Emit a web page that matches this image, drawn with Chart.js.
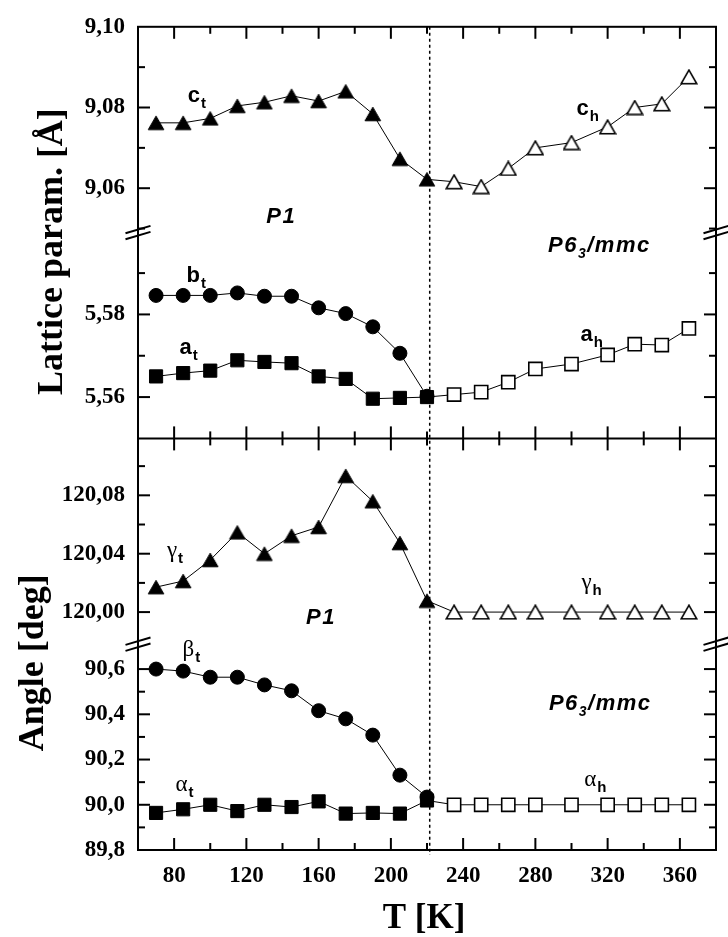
<!DOCTYPE html>
<html>
<head>
<meta charset="utf-8">
<script src="https://cdn.jsdelivr.net/npm/chart.js@4.4.1/dist/chart.umd.min.js"></script>
<style>
html,body{margin:0;padding:0;background:#fff;}
canvas{display:block;}
</style>
</head>
<body>
<canvas id="chart" width="728" height="937"></canvas>
<script>
// ---------- data ----------
const T_tet = [70, 85, 100, 115, 130, 145, 160, 175, 190, 205, 220];
const T_hex = [235, 250, 265, 280, 300, 320, 335, 350, 365];

const c_tet = [9.0762, 9.0762, 9.0773, 9.0804, 9.0813, 9.0829, 9.0816, 9.0840, 9.0784, 9.0673, 9.0622];
const c_hex = [9.0616, 9.0604, 9.0649, 9.0700, 9.0713, 9.0752, 9.0800, 9.0809, 9.0876];

const b_tet = [5.5846, 5.5846, 5.5846, 5.5852, 5.5844, 5.5844, 5.5816, 5.5802, 5.5770, 5.5706, 5.5602];
const a_tet = [5.5650, 5.5658, 5.5664, 5.5689, 5.5685, 5.5682, 5.5650, 5.5644, 5.5596, 5.5598, 5.5600];
const a_hex = [5.5606, 5.5612, 5.5636, 5.5668, 5.5680, 5.5702, 5.5728, 5.5726, 5.5766];

const gamma_tet = [120.0171, 120.0213, 120.0357, 120.0546, 120.0400, 120.0523, 120.0583, 120.0933, 120.0759, 120.0473, 120.0078];
const gamma_hex = [120.000, 120.000, 120.000, 120.000, 120.000, 120.000, 120.000, 120.000, 120.000];

const beta_tet = [90.600, 90.591, 90.564, 90.564, 90.530, 90.504, 90.416, 90.380, 90.308, 90.131, 90.034];
const alpha_tet = [89.964, 89.980, 90.000, 89.972, 90.000, 89.990, 90.015, 89.961, 89.964, 89.961, 90.019];
const alpha_hex = [90.000, 90.000, 90.000, 90.000, 90.000, 90.000, 90.000, 90.000, 90.000];

const T_transition = 221.5;

// tick labels
const xTickLabels = [80, 120, 160, 200, 240, 280, 320, 360];
const cTickLabels = [9.06, 9.08, 9.10];
const abTickLabels = [5.56, 5.58];
const gammaTickLabels = [120.00, 120.04, 120.08];
const angleTickLabels = [89.8, 90.0, 90.2, 90.4, 90.6];

// axis ranges
const xRange = [60, 380];
const cRange = [9.049, 9.10];
const abRange = [5.55, 5.5998];
const gammaRange = [119.978, 120.119];
const angleRange = [89.8, 90.71];

// ---------- helpers ----------
const SERIF = '"Liberation Serif","Times New Roman",serif';
const SANS = '"Liberation Sans",Arial,sans-serif';
const near = (v, arr) => arr.some(a => Math.abs(a - v) < 1e-6);
const pts = (Ts, Vs) => Ts.map((t, i) => ({x: t, y: Vs[i]}));
const fills = (nTet, nHex) => Array(nTet).fill('#000').concat(Array(nHex).fill('#fff'));
const widths = (nTet, nHex) => Array(nTet).fill(1).concat(Array(nHex).fill(1.6));

// triangle symbols centred on their bounding box (as in the original plot)
function triangleSymbol(filled) {
  const cv = document.createElement('canvas');
  cv.width = 18; cv.height = 16;
  const g = cv.getContext('2d');
  g.beginPath();
  g.moveTo(9, 1.2); g.lineTo(16.8, 14.8); g.lineTo(1.2, 14.8); g.closePath();
  g.fillStyle = filled ? '#000' : '#fff';
  g.fill();
  g.strokeStyle = '#000';
  g.lineWidth = filled ? 1 : 1.6;
  g.lineJoin = 'miter';
  g.stroke();
  return cv;
}
const triFilled = triangleSymbol(true);
const triOpen = triangleSymbol(false);
const triStyles = (nTet, nHex) => Array(nTet).fill(triFilled).concat(Array(nHex).fill(triOpen));

function yAxis(range, labels, step, decimals, weight) {
  return {
    type: 'linear', position: 'left', stack: 'panels', stackWeight: 1, weight: weight,
    min: range[0], max: range[1],
    grid: {display: false, drawTicks: false},
    border: {display: false},
    ticks: {
      stepSize: step, includeBounds: false, autoSkip: false, padding: 13,
      color: '#000', font: {family: SERIF, size: 23, weight: 'bold'},
      callback: v => near(v, labels) ? v.toFixed(decimals).replace('.', ',') : ''
    },
    afterFit: s => { s.width = 138; }
  };
}

// annotations anchored in data coordinates
const annotations = [
  {axis: 'yC',  x: 87.5,  y: 9.0814,  text: 'c', sub: 't', kind: 'latin'},
  {axis: 'yC',  x: 302.8, y: 9.0782,  text: 'c', sub: 'h', kind: 'latin'},
  {axis: 'yAB', x: 86.9,  y: 5.5879,  text: 'b', sub: 't', kind: 'latin'},
  {axis: 'yAB', x: 83.0,  y: 5.5704,  text: 'a', sub: 't', kind: 'latin'},
  {axis: 'yAB', x: 305.0, y: 5.5735,  text: 'a', sub: 'h', kind: 'latin'},
  {axis: 'yC',  x: 131.0, y: 9.0513,  text: 'P1', kind: 'group'},
  {axis: 'yAB', x: 287.0, y: 5.5951,  text: 'P6', sub: '3', rest: '/mmc', kind: 'group'},
  {axis: 'yG',  x: 76.0,  y: 120.0375, text: 'γ', sub: 't', kind: 'greek'},
  {axis: 'yG',  x: 305.5, y: 120.0159, text: 'γ', sub: 'h', kind: 'greek'},
  {axis: 'yG',  x: 153.0, y: 119.9915, text: 'P1', kind: 'group'},
  {axis: 'yBA', x: 84.6,  y: 90.660,  text: 'β', sub: 't', kind: 'greek'},
  {axis: 'yBA', x: 287.5, y: 90.420,  text: 'P6', sub: '3', rest: '/mmc', kind: 'group'},
  {axis: 'yBA', x: 80.8,  y: 90.062,  text: 'α', sub: 't', kind: 'greek'},
  {axis: 'yBA', x: 307.0, y: 90.084,  text: 'α', sub: 'h', kind: 'greek'}
];

function drawAnnotation(ctx, a, px, py) {
  ctx.textAlign = 'left';
  ctx.textBaseline = 'alphabetic';
  let mainFont, subFont, subDy = 6, gap = 1;
  if (a.kind === 'latin') { mainFont = 'bold 22px ' + SANS; subFont = 'bold 15px ' + SANS; }
  else if (a.kind === 'greek') { mainFont = '23px ' + SERIF; subFont = 'bold 15px ' + SANS; }
  else { mainFont = 'italic bold 22px ' + SANS; subFont = 'italic bold 14px ' + SANS; subDy = 6; gap = 0; }
  const ls = a.kind === 'group' ? '1.5px' : '0px';
  try { ctx.letterSpacing = ls; } catch (e) {}
  ctx.font = mainFont;
  ctx.fillText(a.text, px, py);
  let x = px + ctx.measureText(a.text).width + gap;
  if (a.sub) {
    ctx.font = subFont;
    ctx.fillText(a.sub, x, py + subDy);
    x += ctx.measureText(a.sub).width;
  }
  if (a.rest) {
    ctx.font = mainFont;
    ctx.fillText(a.rest, x, py);
  }
  try { ctx.letterSpacing = '0px'; } catch (e) {}
}

const framePlugin = {
  id: 'frame',
  afterDraw(chart) {
    const {ctx, chartArea: ca, scales} = chart;
    const xs = scales.x;
    const yDiv = scales.yAB.bottom;
    const seg = (x1, y1, x2, y2) => { ctx.beginPath(); ctx.moveTo(x1, y1); ctx.lineTo(x2, y2); ctx.stroke(); };
    ctx.save();
    ctx.strokeStyle = '#000';
    ctx.fillStyle = '#000';

    // dotted transition line
    const xd = xs.getPixelForValue(T_transition);
    ctx.lineWidth = 1.5;
    ctx.setLineDash([3, 3]);
    seg(xd, ca.top, xd, ca.bottom + 5);
    ctx.setLineDash([]);

    // frame and divider
    ctx.lineWidth = 2;
    ctx.strokeRect(ca.left, ca.top, ca.right - ca.left, ca.bottom - ca.top);
    seg(ca.left, yDiv, ca.right, yDiv);

    // x ticks (bottom, top, both sides of divider)
    xs.ticks.forEach(t => {
      const px = xs.getPixelForValue(t.value);
      if (px < ca.left + 2 || px > ca.right - 2) return;
      const len = (t.value % 40 === 0) ? 12 : 7;
      seg(px, ca.bottom, px, ca.bottom - len);
      seg(px, ca.top, px, ca.top + len);
      seg(px, yDiv, px, yDiv - len);
      seg(px, yDiv, px, yDiv + len);
    });

    // y ticks (left & right, inward)
    const majors = {yC: cTickLabels, yAB: abTickLabels, yG: gammaTickLabels, yBA: angleTickLabels};
    ['yC', 'yAB', 'yG', 'yBA'].forEach(id => {
      const s = scales[id];
      s.ticks.forEach(t => {
        const py = s.getPixelForValue(t.value);
        if (py < s.top + 3 || py > s.bottom - 3) return;
        const len = near(t.value, majors[id]) ? 12 : 7;
        seg(ca.left, py, ca.left + len, py);
        seg(ca.right, py, ca.right - len, py);
      });
    });

    // axis break marks
    [scales.yC.bottom, scales.yG.bottom].forEach(yb => {
      [ca.left, ca.right].forEach(xb => {
        [-3, 3].forEach(off => {
          seg(xb - 12.5, yb + off + 3.7, xb + 12.5, yb + off - 3.7);
        });
      });
    });

    // annotations
    annotations.forEach(a => {
      const px = xs.getPixelForValue(a.x);
      const py = scales[a.axis].getPixelForValue(a.y);
      drawAnnotation(ctx, a, px, py);
    });

    // axis titles
    ctx.textAlign = 'center';
    ctx.textBaseline = 'alphabetic';
    ctx.font = 'bold 36px ' + SERIF;
    ctx.save();
    ctx.translate(ca.left - 76, (ca.top + yDiv) / 2 + 19);
    ctx.rotate(-Math.PI / 2);
    ctx.fillText('Lattice param. [Å]', 0, 0);
    ctx.restore();
    ctx.save();
    ctx.translate(ca.left - 95, (yDiv + ca.bottom) / 2 + 18.5);
    ctx.rotate(-Math.PI / 2);
    ctx.fillText('Angle [deg]', 0, 0);
    ctx.restore();
    ctx.font = 'bold 35px ' + SERIF;
    ctx.fillText('T [K]', (ca.left + ca.right) / 2 - 3, ca.bottom + 78);

    ctx.restore();
  }
};

const lineStyle = {showLine: true, borderColor: '#000', borderWidth: 1, pointBorderColor: '#000'};

new Chart(document.getElementById('chart'), {
  type: 'scatter',
  data: {
    datasets: [
      Object.assign({label: 'c', data: pts(T_tet, c_tet).concat(pts(T_hex, c_hex)), yAxisID: 'yC',
        pointStyle: triStyles(11, 9), pointRadius: 9}, lineStyle),
      Object.assign({label: 'b', data: pts(T_tet, b_tet), yAxisID: 'yAB',
        pointStyle: 'circle', pointRadius: 7, pointBackgroundColor: '#000', pointBorderWidth: 1}, lineStyle),
      Object.assign({label: 'a', data: pts(T_tet, a_tet).concat(pts(T_hex, a_hex)), yAxisID: 'yAB',
        pointStyle: 'rect', pointRadius: 9.3, pointBackgroundColor: fills(11, 9), pointBorderWidth: widths(11, 9)}, lineStyle),
      Object.assign({label: 'gamma', data: pts(T_tet, gamma_tet).concat(pts(T_hex, gamma_hex)), yAxisID: 'yG',
        pointStyle: triStyles(11, 9), pointRadius: 9}, lineStyle),
      Object.assign({label: 'beta', data: pts(T_tet, beta_tet), yAxisID: 'yBA',
        pointStyle: 'circle', pointRadius: 7, pointBackgroundColor: '#000', pointBorderWidth: 1}, lineStyle),
      Object.assign({label: 'alpha', data: pts(T_tet, alpha_tet).concat(pts(T_hex, alpha_hex)), yAxisID: 'yBA',
        pointStyle: 'rect', pointRadius: 9.3, pointBackgroundColor: fills(11, 9), pointBorderWidth: widths(11, 9)}, lineStyle)
    ]
  },
  options: {
    responsive: false,
    animation: false,
    devicePixelRatio: 1,
    layout: {padding: {top: 16, right: 5, left: 0, bottom: 0}},
    plugins: {legend: {display: false}, tooltip: {enabled: false}},
    scales: {
      x: {
        type: 'linear', position: 'bottom', min: xRange[0], max: xRange[1],
        grid: {display: false, drawTicks: false},
        border: {display: false},
        ticks: {
          stepSize: 20, autoSkip: false, maxRotation: 0, padding: 12,
          color: '#000', font: {family: SERIF, size: 23, weight: 'bold'},
          callback: v => near(v, xTickLabels) ? String(v) : ''
        },
        afterFit: s => { s.height = 87; }
      },
      yC: yAxis(cRange, cTickLabels, 0.01, 2, 4),
      yAB: yAxis(abRange, abTickLabels, 0.01, 2, 3),
      yG: yAxis(gammaRange, gammaTickLabels, 0.02, 2, 2),
      yBA: yAxis(angleRange, angleTickLabels, 0.1, 1, 1)
    }
  },
  plugins: [framePlugin]
});
</script>
</body>
</html>
